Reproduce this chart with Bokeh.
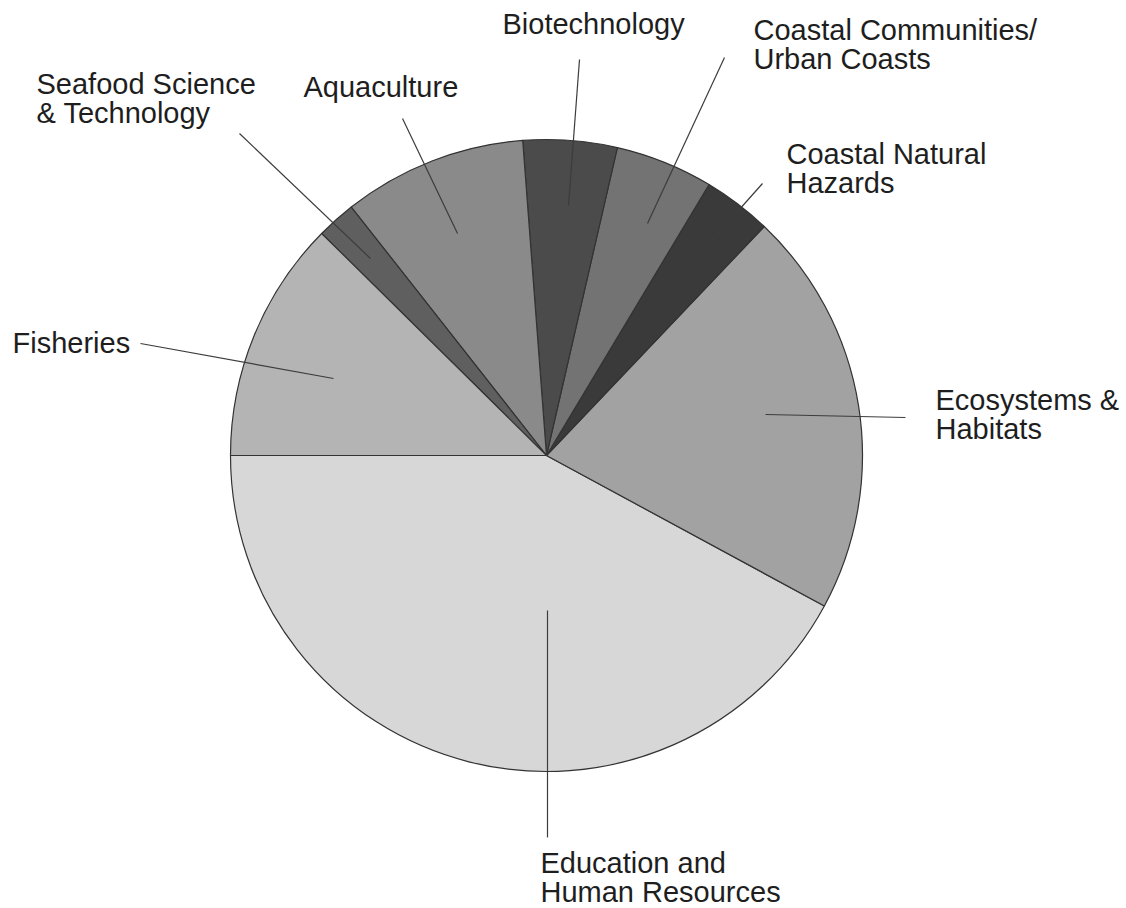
import math
from bokeh.plotting import figure
from bokeh.models import ColumnDataSource, Range1d
from bokeh.core.properties import value
from bokeh.embed import file_html
from bokeh.resources import INLINE

# ---- data ----
categories = ["Education and\nHuman Resources", "Ecosystems &\nHabitats",
              "Coastal Natural\nHazards", "Coastal Communities/\nUrban Coasts",
              "Biotechnology", "Aquaculture", "Seafood Science\n& Technology",
              "Fisheries"]
shares = [42.1, 20.8, 3.5, 5.0, 4.8, 9.4, 2.0, 12.4]
slice_colors = ["#d7d7d7", "#a2a2a2", "#3a3a3a", "#737373",
                "#4b4b4b", "#8a8a8a", "#5f5f5f", "#b4b4b4"]

# ---- layout (screen pixels, y downward) ----
W, H = 1126, 908
CX, CY, R = 546, 455, 316
START_DEG = 180.0
TEXT_SHIFT = -10
label_pos = [(540, 872), (935, 409), (786, 163), (753, 39),
             (502, 33), (303, 96), (36, 93), (12, 352)]
leaders = [((547, 610), (547, 837)), ((765, 414), (905, 417)),
           ((705, 247), (762, 183)), ((647, 223), (724, 57)),
           ((568, 205), (579, 59)), ((457, 233), (402, 118)),
           ((370, 258), (239, 133)), ((333, 378), (140, 343))]
LINE_STEP = 29

def sy(y):
    return H - y

total = sum(shares)
starts, ends = [], []
a = math.radians(START_DEG)
for s in shares:
    d = 2 * math.pi * s / total
    starts.append(a)
    ends.append(a + d)
    a += d

src = ColumnDataSource(dict(start=starts, end=ends, color=slice_colors,
                            name=categories))

p = figure(width=W, height=H, x_range=Range1d(0, W), y_range=Range1d(0, H),
           output_backend="svg", toolbar_location=None, min_border=0)
p.axis.visible = False
p.grid.visible = False
p.outline_line_color = None
p.background_fill_color = "white"

p.wedge(x=CX, y=sy(CY), radius=R, start_angle="start", end_angle="end",
        direction="anticlock", fill_color="color", line_color="#333333",
        line_width=1.2, source=src)

p.segment(x0=[l[0][0] for l in leaders], y0=[sy(l[0][1]) for l in leaders],
          x1=[l[1][0] for l in leaders], y1=[sy(l[1][1]) for l in leaders],
          line_color="#3c3c3c", line_width=1.2)

tx, ty, tt = [], [], []
for name, (lx, ly) in zip(categories, label_pos):
    for i, line in enumerate(name.split("\n")):
        tx.append(lx)
        ty.append(sy(ly + i * LINE_STEP + TEXT_SHIFT))
        tt.append(line)

p.text(x=tx, y=ty, text=tt, text_font=value("Liberation Sans"),
       text_font_size="29px", text_color="#1e1e1e",
       text_baseline="alphabetic", text_align="left")

open("out.html", "w").write(file_html(p, INLINE))
